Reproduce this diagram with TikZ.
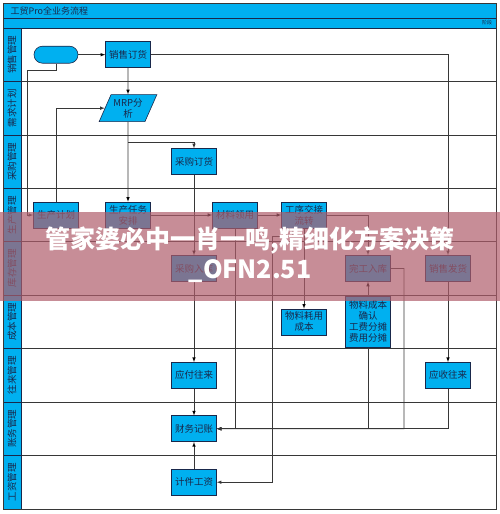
\documentclass[tikz,border=0pt]{standalone}
\usepackage{fontspec}
\setmainfont{Noto Sans CJK SC}
\usepackage{tikz}
\usetikzlibrary{positioning,shapes.geometric}

\definecolor{laneblue}{RGB}{0,176,240}
\definecolor{inkblue}{RGB}{25,40,75}
\definecolor{linegray}{RGB}{55,55,55}
\definecolor{wmpink}{RGB}{176,93,107}

\tikzset{
  box/.style={draw=inkblue, fill=laneblue, text=inkblue, minimum width=45pt,
    minimum height=26pt, inner sep=1pt, align=center,
    font=\fontsize{9.5}{11}\selectfont},
  term/.style={draw=inkblue, fill=laneblue, minimum width=44pt,
    minimum height=17pt, rounded corners=8.5pt},
  para/.style={trapezium, trapezium left angle=63, trapezium right angle=117,
    trapezium stretches=true, draw=inkblue, fill=laneblue, text=inkblue,
    minimum width=58pt, minimum height=27pt, inner sep=1pt, align=center,
    font=\fontsize{9.5}{11}\selectfont},
  lanelab/.style={rotate=90, text=inkblue, font=\fontsize{9.5}{9.5}\selectfont},
  wmtext/.style={text=white, font=\bfseries\fontsize{25}{27}\selectfont}
}

\begin{document}
\begin{tikzpicture}[x=1pt,y=-1pt,node distance=53.44pt,on grid,>=latex,line width=0.6pt]
  \useasboundingbox (0,0) rectangle (500,514);
  % frame and title bars
  \fill[white] (3,3) rectangle (496,509);
  \draw[draw=inkblue, fill=laneblue] (3,3) rectangle (496,18);
  \draw[draw=inkblue, fill=laneblue] (3,18) rectangle (496,28);
  \node[anchor=west, text=inkblue, font=\fontsize{9}{9}\selectfont] (title) at (7,11) {工贸Pro全业务流程};
  \node[text=inkblue, font=\fontsize{5}{5}\selectfont] (stage) at (487,23) {阶段};
  % lanes
  \foreach \lab [count=\i] in {销售管理,需求计划,采购管理,生产管理,库存管理,成本管理,往来管理,账务管理,工资管理}{
    \pgfmathsetmacro\ytop{28+(\i-1)*53.44}
    \pgfmathsetmacro\ybot{28+\i*53.44}
    \draw[draw=inkblue, fill=laneblue] (3,\ytop) rectangle (21,\ybot);
    \draw[linegray] (21,\ybot) -- (496,\ybot);
    \node[lanelab] (lane_\i) at (12,{(\ytop+\ybot)/2}) {\lab};
  }
  \draw[linegray, line width=0.9pt] (3,3) rectangle (496,509);

  % nodes
  \node[term] (start) at (56,54.7) {};
  \node[box, right=72pt of start] (sale_ord) {销售订货};
  \node[para, below=of sale_ord] (mrp) {MRP分\\析};
  \node[box, below right=53.44pt and 66pt of mrp] (buy_ord) {采购订货};
  \node[box, below=106.88pt of mrp] (prod_task) {生产任务\\安排};
  \node[box, left=72pt of prod_task] (prod_plan) {生产计划};
  \node[box, right=107pt of prod_task] (mat_use) {材料领用};
  \node[box, right=69pt of mat_use] (proc_hand) {工序交接\\流转};
  \node[box, below=106.88pt of buy_ord] (buy_in) {采购入库};
  \node[box, below right=53.44pt and 64pt of proc_hand] (done_in) {完工入库};
  \node[box, right=80pt of done_in] (sale_out) {销售发货};
  \node[box, below=106.88pt of proc_hand] (mat_cost) {物料耗用\\成本};
  \node[box, below=of done_in, minimum height=51pt] (cost_chk) {物料成本\\确认\\工费分摊\\费用分摊};
  \node[box, below=106.88pt of buy_in] (pay_acc) {应付往来};
  \node[box, below=106.88pt of sale_out] (rec_acc) {应收往来};
  \node[box, below=of pay_acc] (book) {财务记账};
  \node[box, below=of book] (wage) {计件工资};

  % turning points
  \coordinate (s_turn) at (27,70);
  \coordinate (mrp_br) at (128,142);
  \coordinate (wg_dn) at (404,428.8);
  \coordinate (gx_l) at (272,236);

  \path[->, draw=linegray]
    (start) edge (sale_ord)
    (sale_ord) edge (mrp)
    (mrp) edge (prod_task)
    (buy_ord) edge (buy_in)
    (buy_in) edge (pay_acc)
    (pay_acc) edge (book)
    (wage) edge (book)
    (prod_task) edge (mat_use)
    (mat_use) edge (proc_hand)
    (cost_chk) edge (done_in)
    (sale_out) edge (rec_acc)
    (proc_hand) edge (mat_cost);
  \draw[->, linegray] (start.south) |- (s_turn) |- (prod_plan);
  \draw[->, linegray] (sale_ord) -| (sale_out);
  \draw[->, linegray] (mrp_br) -| (buy_ord);
  \draw[->, linegray] (prod_plan) |- (mrp);
  \draw[->, linegray] (proc_hand) -| (done_in);
  \draw[->, linegray] (rec_acc) |- (book);
  \draw[->, linegray] (cost_chk) |- (book);
  \draw[->, linegray] (done_in) -| (wg_dn) -- (book);
  \draw[->, linegray] (mat_use) |- (book);
  \draw[->, linegray] ([xshift=-12pt]proc_hand.south) |- (gx_l) |- (wage);

  % overlay band
  \fill[wmpink, opacity=0.7] (0,212) rectangle (500,301);
  \node[wmtext] (wm_a) at (250,240) {管家婆必中一肖一鸣,精细化方案决策};
  \node[wmtext] (wm_b) at (250,271) {\_OFN2.51};
\end{tikzpicture}
\end{document}
